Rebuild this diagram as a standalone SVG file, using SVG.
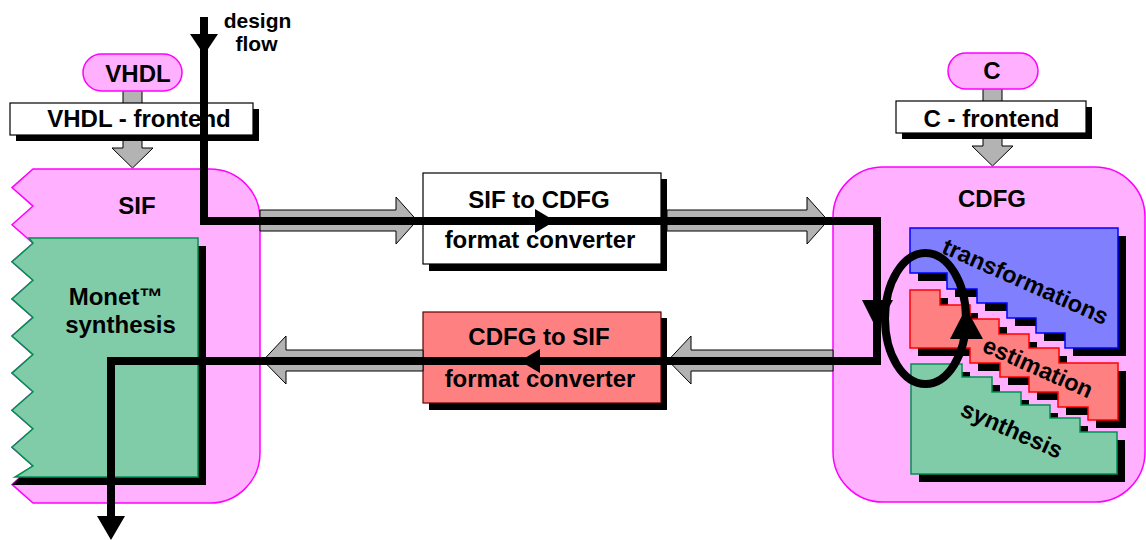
<svg xmlns="http://www.w3.org/2000/svg" width="1146" height="540" viewBox="0 0 1146 540">
<style>
text{font-family:"Liberation Sans",Arial,Helvetica,sans-serif;font-weight:bold;fill:#000;text-anchor:middle}
.t23{font-size:24px}
.tr{font-size:23.5px}
.t21{font-size:21px}
.pink{fill:#ffb0ff;stroke:#ff00ff;stroke-width:1.5}
.gray{fill:#b3b3b3;stroke:#000;stroke-width:1}
.box{fill:#fff;stroke:#000;stroke-width:1.2}
.rbox{fill:#ff8080;stroke:#600000;stroke-width:1.2}
.sh{fill:#000}
.blue{fill:#8080ff;stroke:#0000ff;stroke-width:1.5}
.red{fill:#ff8080;stroke:#ff0000;stroke-width:1.5}
.green{fill:#80cca8;stroke:#009050;stroke-width:1.5}
.flow{fill:none;stroke:#000;stroke-width:8;stroke-linejoin:miter}
</style>

<!-- small gray feeders -->
<g id="feeders">
  <rect class="gray" x="123" y="90" width="19" height="14"/>
  <path class="gray" d="M123,140 V148 H112 L132.5,168 L153,148 H142 V140 Z"/>
  <rect class="gray" x="983" y="88" width="19" height="14"/>
  <path class="gray" d="M983,138 V146 H972 L992.5,166 L1013,146 H1002 V138 Z"/>
</g>

<g id="vhdl">
  <rect class="pink" x="83" y="54" width="99" height="37" rx="18.5"/>
  <text class="t23" x="138" y="82">VHDL</text>
</g>
<g id="vhdl-frontend">
  <rect class="sh" x="16" y="109" width="243" height="32"/>
  <rect class="box" x="10" y="103" width="243" height="32"/>
  <text class="t23" x="139" y="127">VHDL - frontend</text>
</g>

<g id="c">
  <rect class="pink" x="948" y="53" width="90" height="36" rx="18"/>
  <text class="t23" x="992" y="79">C</text>
</g>
<g id="c-frontend">
  <rect class="sh" x="902" y="107" width="190" height="32"/>
  <rect class="box" x="896" y="101" width="190" height="32"/>
  <text class="t23" x="991.5" y="127">C - frontend</text>
</g>

<g id="sif">
  <path class="pink" d="M33,169 H210 A50,50 0 0 1 260,219 V453 A50,50 0 0 1 210,503 H33 L12,484.4 L33,465.9 L12,447.3 L33,428.8 L12,410.2 L33,391.7 L12,373.1 L33,354.6 L12,336 L33,317.4 L12,298.9 L33,280.3 L12,261.8 L33,243.2 L12,224.7 L33,206.1 L12,187.6 Z"/>
  <text class="t23" x="137" y="214">SIF</text>
</g>

<g id="monet">
  <path class="sh" d="M198,246 H206 V485 H12 L20,477 H198 Z"/>
  <path class="green" d="M29,238 H198 V477 H15 L33,465.9 L12,447.3 L33,428.8 L12,410.2 L33,391.7 L12,373.1 L33,354.6 L12,336 L33,317.4 L12,298.9 L33,280.3 L12,261.8 L33,243.2 Z"/>
  <text class="t23" x="116" y="305">Monet™</text>
  <text class="t23" x="120.5" y="333">synthesis</text>
</g>

<g id="cdfg">
  <rect class="pink" x="833" y="167" width="312" height="335" rx="50"/>
  <text class="t23" x="992" y="207">CDFG</text>
</g>

<g id="transformations">
  <path class="sh" d="M918,236 H1126 V356 H1073 V341 H1044 V326 H1015 V311 H985 V297 H955 V281 H918 Z"/>
  <path class="blue" d="M910,228 H1118 V348 H1065 V333 H1036 V318 H1007 V303 H977 V289 H947 V273 H910 Z"/>
  <text class="tr" transform="translate(1025.5,281.5) rotate(24)" y="8">transformations</text>
</g>

<g id="estimation">
  <path class="sh" d="M918,298 H948 V313 H978 V327 H1007 V342 H1037 V356 H1067 V371 H1126 V428 H1096 V415 H1066 V400 H1037 V385 H1008 V371 H978 V356 H918 Z"/>
  <path class="red" d="M910,290 H940 V305 H970 V319 H999 V334 H1029 V348 H1059 V363 H1118 V420 H1088 V407 H1058 V392 H1029 V377 H1000 V363 H970 V348 H910 Z"/>
  <text class="tr" transform="translate(1038,367.5) rotate(24)" y="8">estimation</text>
</g>

<g id="synthesis">
  <path class="sh" d="M919,372 H970 V385 H1000 V400 H1029 V413 H1058 V426 H1088 V440 H1125 V482 H919 Z"/>
  <path class="green" d="M911,364 H962 V377 H992 V392 H1021 V405 H1050 V418 H1080 V432 H1117 V474 H911 Z"/>
  <text class="tr" transform="translate(1011,431.5) rotate(24)" y="6">synthesis</text>
</g>

<g id="sif-to-cdfg">
  <rect class="sh" x="429" y="179" width="238" height="92"/>
  <rect class="box" x="423" y="173" width="238" height="91"/>
  <text class="t23" x="539" y="208">SIF to CDFG</text>
  <text class="t23" x="540" y="248">format converter</text>
</g>

<g id="cdfg-to-sif">
  <rect class="sh" x="429" y="318" width="238" height="92"/>
  <rect class="rbox" x="423" y="312" width="238" height="91"/>
  <text class="t23" x="539" y="345">CDFG to SIF</text>
  <text class="t23" x="540" y="387">format converter</text>
</g>

<g id="connectors">
  <path class="gray" d="M260,210 H396 V197 L417,220.5 L396,244 V231 H260 Z"/>
  <path class="gray" d="M667,210 H807 V197 L828,220.5 L807,244 V231 H667 Z"/>
  <path class="gray" d="M423,350 H286 V336 L263,360.5 L286,384 V371 H423 Z"/>
  <path class="gray" d="M833,350 H691 V336 L668,360.5 L691,384 V371 H833 Z"/>
  <path class="flow" d="M204,17 V221 H877 V361 H111 V518"/>
  <polygon points="190,34 218,34 204,55"/>
  <polygon points="535,209 535,233 555,221"/>
  <polygon points="862,300 893,300 877,330"/>
  <polygon points="540,349 540,373 520,361"/>
  <polygon points="97,516 125,516 111,540"/>
  <ellipse class="flow" cx="925.5" cy="318.5" rx="40.5" ry="65.5"/>
  <polygon points="950,339 983,339 966,308"/>
</g>

<g id="label-design-flow">
  <text class="t21" x="257.5" y="27.5">design</text>
  <text class="t21" x="256.5" y="51">flow</text>
</g>
</svg>
